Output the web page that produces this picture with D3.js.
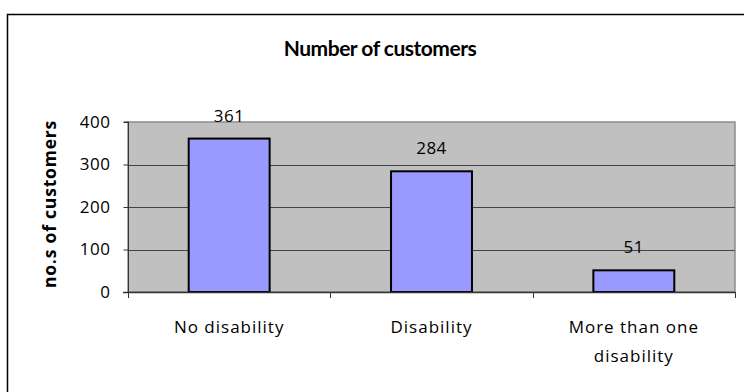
<!doctype html>
<html>
<head>
<meta charset="utf-8">
<script src="https://cdn.jsdelivr.net/npm/d3@7/dist/d3.min.js"></script>
<style>
  body { margin: 0; background: #fff; }
  svg { display: block; }
  text { font-family: "Open Sans", "DejaVu Sans", sans-serif; fill: #000; }
</style>
</head>
<body>
<svg id="chart" width="744" height="392"></svg>
<script>
  // chart data
  var categories = ['No disability', 'Disability', 'More than one disability'];
  var customers = [361, 284, 51];
  var yTicks = [0, 100, 200, 300, 400];

  var svg = d3.select('#chart');

  // outer chart frame (runs off the right / bottom edge like the original)
  svg.append('rect')
    .attr('x', 7.5).attr('y', 14.5)
    .attr('width', 760).attr('height', 400)
    .attr('fill', '#fff').attr('stroke', '#000').attr('stroke-width', 1.5);

  var plot = { left: 128, top: 122, right: 735, bottom: 292 };

  var x = d3.scaleBand()
    .domain(categories)
    .range([plot.left, plot.right])
    .paddingInner(0.6)
    .paddingOuter(0.3);

  var y = d3.scaleLinear()
    .domain([0, 400])
    .range([plot.bottom, plot.top]);

  // plot background
  svg.append('rect')
    .attr('x', plot.left).attr('y', plot.top)
    .attr('width', plot.right - plot.left).attr('height', plot.bottom - plot.top)
    .attr('fill', '#c0c0c0')
    .attr('stroke', '#8c8c8c').attr('stroke-width', 1.5);

  // gridlines
  svg.append('g')
    .selectAll('line')
    .data(yTicks.filter(function (d) { return d > 0 && d < 400; }))
    .enter().append('line')
    .attr('x1', plot.left).attr('x2', plot.right)
    .attr('y1', function (d) { return Math.round(y(d)) + 0.5; })
    .attr('y2', function (d) { return Math.round(y(d)) + 0.5; })
    .attr('stroke', '#454545').attr('stroke-width', 1);

  // bars
  svg.append('g')
    .selectAll('rect')
    .data(customers)
    .enter().append('rect')
    .attr('x', function (d, i) { return x(categories[i]); })
    .attr('y', function (d) { return y(d); })
    .attr('width', x.bandwidth())
    .attr('height', function (d) { return y(0) - y(d); })
    .attr('fill', '#9999ff')
    .attr('stroke', '#000').attr('stroke-width', 2);

  // value labels
  svg.append('g')
    .selectAll('text')
    .data(customers)
    .enter().append('text')
    .attr('x', function (d, i) { return x(categories[i]) + x.bandwidth() / 2; })
    .attr('y', function (d) { return y(d) - 17; })
    .attr('text-anchor', 'middle')
    .style('font-size', '17px')
    .style('letter-spacing', '0.5px')
    .text(function (d) { return d; });

  // y axis
  var yAxis = svg.append('g')
    .attr('transform', 'translate(' + (plot.left + 0.5) + ',0)')
    .call(d3.axisLeft(y).tickValues(yTicks).tickSize(5).tickPadding(13));
  yAxis.selectAll('text')
    .style('font-size', '17px')
    .style('letter-spacing', '0.5px')
    .style('font-family', '"Open Sans", "DejaVu Sans", sans-serif');
  yAxis.selectAll('line, path').attr('stroke', '#333');
  yAxis.select('path').attr('d', 'M-5,' + plot.top + 'H0V' + plot.bottom);

  // x axis with boundary ticks
  var bounds = d3.range(categories.length + 1).map(function (i) {
    return plot.left + i * x.step();
  });
  svg.append('line')
    .attr('x1', plot.left - 5).attr('x2', plot.right)
    .attr('y1', plot.bottom + 0.5).attr('y2', plot.bottom + 0.5)
    .attr('stroke', '#333').attr('stroke-width', 1.5);
  svg.append('g')
    .selectAll('line')
    .data(bounds)
    .enter().append('line')
    .attr('x1', function (d) { return Math.round(d) + 0.5; })
    .attr('x2', function (d) { return Math.round(d) + 0.5; })
    .attr('y1', plot.bottom).attr('y2', plot.bottom + 6)
    .attr('stroke', '#333');

  // category labels
  var xLabelLines = [['No disability'], ['Disability'], ['More than one', 'disability']];
  svg.append('g')
    .selectAll('text')
    .data(categories)
    .enter().append('text')
    .attr('x', function (d) { return x(d) + x.bandwidth() / 2; })
    .attr('y', 333)
    .attr('text-anchor', 'middle')
    .style('font-size', '17px')
    .style('letter-spacing', '1px')
    .each(function (d, i) {
      var t = d3.select(this);
      xLabelLines[i].forEach(function (line, j) {
        t.append('tspan')
          .attr('x', x(d) + x.bandwidth() / 2)
          .attr('dy', j === 0 ? 0 : 29)
          .text(line);
      });
    });

  // title
  svg.append('text')
    .attr('x', 380).attr('y', 56)
    .attr('text-anchor', 'middle')
    .style('font-family', 'Lato, "Open Sans", sans-serif')
    .style('font-weight', 'bold')
    .style('font-size', '21px')
    .style('letter-spacing', '-0.5px')
    .text('Number of customers');

  // y axis title
  svg.append('text')
    .attr('transform', 'translate(56,204) rotate(-90)')
    .attr('text-anchor', 'middle')
    .style('font-weight', 'bold')
    .style('font-size', '17.5px')
    .style('letter-spacing', '0.8px')
    .text('no.s of customers');
</script>
</body>
</html>
